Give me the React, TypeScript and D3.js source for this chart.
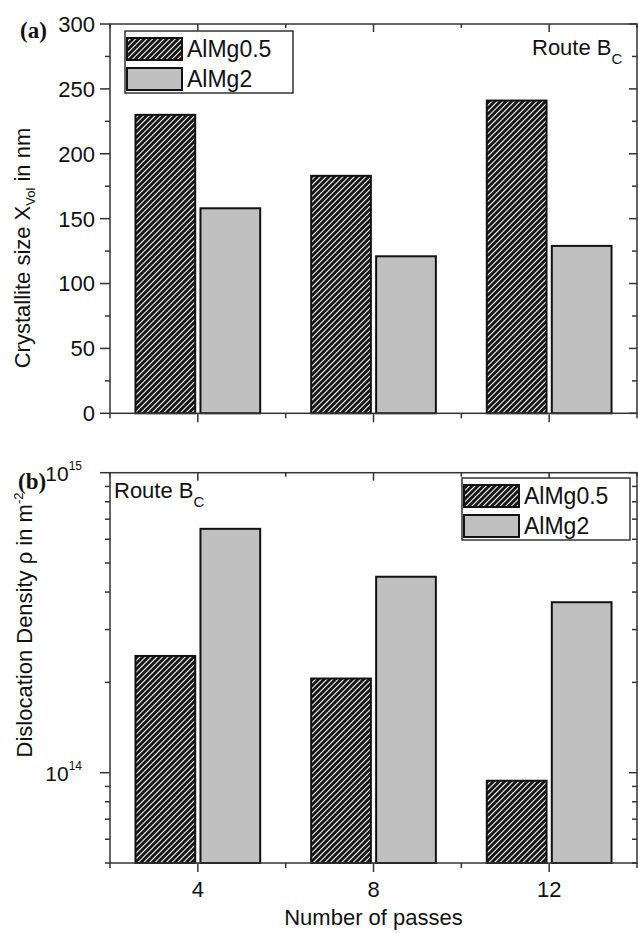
import React from 'react'
import * as d3 from 'd3'

// data
const passes = [4, 8, 12]
const seriesNames = ['AlMg0.5', 'AlMg2']
const sizeAlMg05 = [230, 183, 241]
const sizeAlMg2 = [158, 121, 129]
const densityAlMg05 = [2.45e14, 2.06e14, 9.4e13]
const densityAlMg2 = [6.5e14, 4.5e14, 3.7e14]
const sizeTicks = [0, 50, 100, 150, 200, 250, 300]
const sizeMinor = [25, 75, 125, 175, 225, 275]
const passMinor = [2, 6, 10, 14]

const W = 638
const H = 933
const font = '"Liberation Sans", Arial, sans-serif'
const serif = '"Liberation Serif", "Times New Roman", serif'
const axisColor = '#333'
const grayFill = '#c0c0c0'

const x = d3.scaleLinear().domain([2, 14]).range([110, 637])
const yA = d3.scaleLinear().domain([0, 300]).range([413.3, 24])
const yB = d3.scaleLog().domain([5e13, 1e15]).range([863, 472.7])

const barW = 1.36
const gap = 0.06

type Scale = (v: number) => number

const Frame = ({ y, major, minor, top, bottom }: { y: Scale; major: number[]; minor: number[]; top: number; bottom: number }) => {
  const left = x.range()[0]
  const right = x.range()[1]
  return (
    <g stroke={axisColor} strokeWidth={1.5} fill="none">
      <rect x={left} y={top} width={right - left} height={bottom - top} />
      {major.map((v) => (
        <g key={'M' + v}>
          <line x1={left - 10} x2={left} y1={y(v)} y2={y(v)} />
          <line x1={right - 8} x2={right} y1={y(v)} y2={y(v)} />
        </g>
      ))}
      {minor.map((v) => (
        <g key={'m' + v}>
          <line x1={left - 5} x2={left} y1={y(v)} y2={y(v)} />
          <line x1={right - 5} x2={right} y1={y(v)} y2={y(v)} />
        </g>
      ))}
      {passes.map((p) => (
        <g key={'px' + p}>
          <line x1={x(p)} x2={x(p)} y1={bottom} y2={bottom + 9} />
          <line x1={x(p)} x2={x(p)} y1={top} y2={top + 8} />
        </g>
      ))}
      {passMinor.map((p) => (
        <g key={'pm' + p}>
          <line x1={x(p)} x2={x(p)} y1={bottom} y2={bottom + 5} />
          <line x1={x(p)} x2={x(p)} y1={top} y2={top + 4} />
        </g>
      ))}
    </g>
  )
}

const Bars = ({ y, a, b, base }: { y: Scale; a: number[]; b: number[]; base: number }) => (
  <g stroke="#111" strokeWidth={2}>
    {passes.map((p, i) => (
      <g key={p}>
        <rect
          x={x(p - gap - barW)}
          width={x(p - gap) - x(p - gap - barW)}
          y={y(a[i])}
          height={base - y(a[i])}
          fill="url(#hatch)"
        />
        <rect
          x={x(p + gap)}
          width={x(p + gap + barW) - x(p + gap)}
          y={y(b[i])}
          height={base - y(b[i])}
          fill={grayFill}
        />
      </g>
    ))}
  </g>
)

const Legend = ({ left, top }: { left: number; top: number }) => (
  <g>
    <rect x={left} y={top} width={168} height={62} fill="#fff" stroke={axisColor} strokeWidth={1.5} />
    {seriesNames.map((name, i) => (
      <g key={name}>
        <rect
          x={left + 2}
          y={top + 7 + i * 30}
          width={55}
          height={22}
          fill={i === 0 ? 'url(#hatch)' : grayFill}
          stroke="#111"
          strokeWidth={2}
        />
        <text x={left + 62} y={top + 26 + i * 30} fontSize={23} fontFamily={font} fill="#111">
          {name}
        </text>
      </g>
    ))}
  </g>
)

const Route = ({ tx, ty }: { tx: number; ty: number }) => (
  <text x={tx} y={ty} fontSize={22} fontFamily={font} fill="#111">
    Route B
    <tspan fontSize={15} dy={9}>C</tspan>
  </text>
)

export default function App() {
  const logTicks = yB.ticks()
  const logMajor = logTicks.filter((v) => Math.abs(Math.log10(v) - Math.round(Math.log10(v))) < 1e-9)
  const logMinor = logTicks.filter((v) => !logMajor.includes(v))
  const aBase = yA(0)
  const bBase = yB.range()[0]

  return (
    <svg width={W} height={H} style={{ position: 'absolute', left: 0, top: 0, background: '#fff' }}>
      <defs>
        <pattern id="hatch" patternUnits="userSpaceOnUse" width={4} height={4} patternTransform="rotate(45)">
          <rect width={4} height={4} fill="#fff" />
          <line x1={1.5} y1={0} x2={1.5} y2={4} stroke="#111" strokeWidth={2.9} />
        </pattern>
      </defs>
      <rect width={W} height={H} fill="#fff" />

      {/* panel (a) */}
      <Bars y={yA} a={sizeAlMg05} b={sizeAlMg2} base={aBase} />
      <Frame y={yA} major={sizeTicks} minor={sizeMinor} top={yA(300)} bottom={aBase} />
      {sizeTicks.map((v) => (
        <text key={v} x={95} y={yA(v)} dy="0.36em" textAnchor="end" fontSize={22} fontFamily={font} fill="#111">
          {v}
        </text>
      ))}
      <Legend left={125} top={31} />
      <Route tx={532} ty={55} />
      <text x={20} y={38} fontSize={23} fontWeight="bold" fontFamily={serif} fill="#111">(a)</text>
      <text transform="translate(30,248) rotate(-90)" textAnchor="middle" fontSize={22} fontFamily={font} fill="#111">
        Crystallite size X
        <tspan fontSize={13} dy={5}>Vol</tspan>
        <tspan dy={-5}> in nm</tspan>
      </text>

      {/* panel (b) */}
      <Bars y={yB} a={densityAlMg05} b={densityAlMg2} base={bBase} />
      <Frame y={yB} major={logMajor} minor={logMinor} top={yB.range()[1]} bottom={bBase} />
      {logMajor.map((v) => (
        <text key={v} x={82} y={yB(v)} dy="0.4em" textAnchor="end" fontSize={21} fontFamily={font} fill="#111">
          10
          <tspan fontSize={12} dy={-11}>{Math.round(Math.log10(v))}</tspan>
        </text>
      ))}
      <Legend left={462} top={478} />
      <Route tx={114} ty={498} />
      <text x={18} y={489} fontSize={23} fontWeight="bold" fontFamily={serif} fill="#111">(b)</text>
      <text transform="translate(32,625) rotate(-90)" textAnchor="middle" fontSize={22} fontFamily={font} fill="#111">
        Dislocation Density ρ in m
        <tspan fontSize={13} dy={-9}>-2</tspan>
      </text>
      {passes.map((p) => (
        <text key={p} x={x(p)} y={897} textAnchor="middle" fontSize={22} fontFamily={font} fill="#111">
          {p}
        </text>
      ))}
      <text x={(x.range()[0] + x.range()[1]) / 2} y={925} textAnchor="middle" fontSize={22} fontFamily={font} fill="#111">
        Number of passes
      </text>
    </svg>
  )
}
